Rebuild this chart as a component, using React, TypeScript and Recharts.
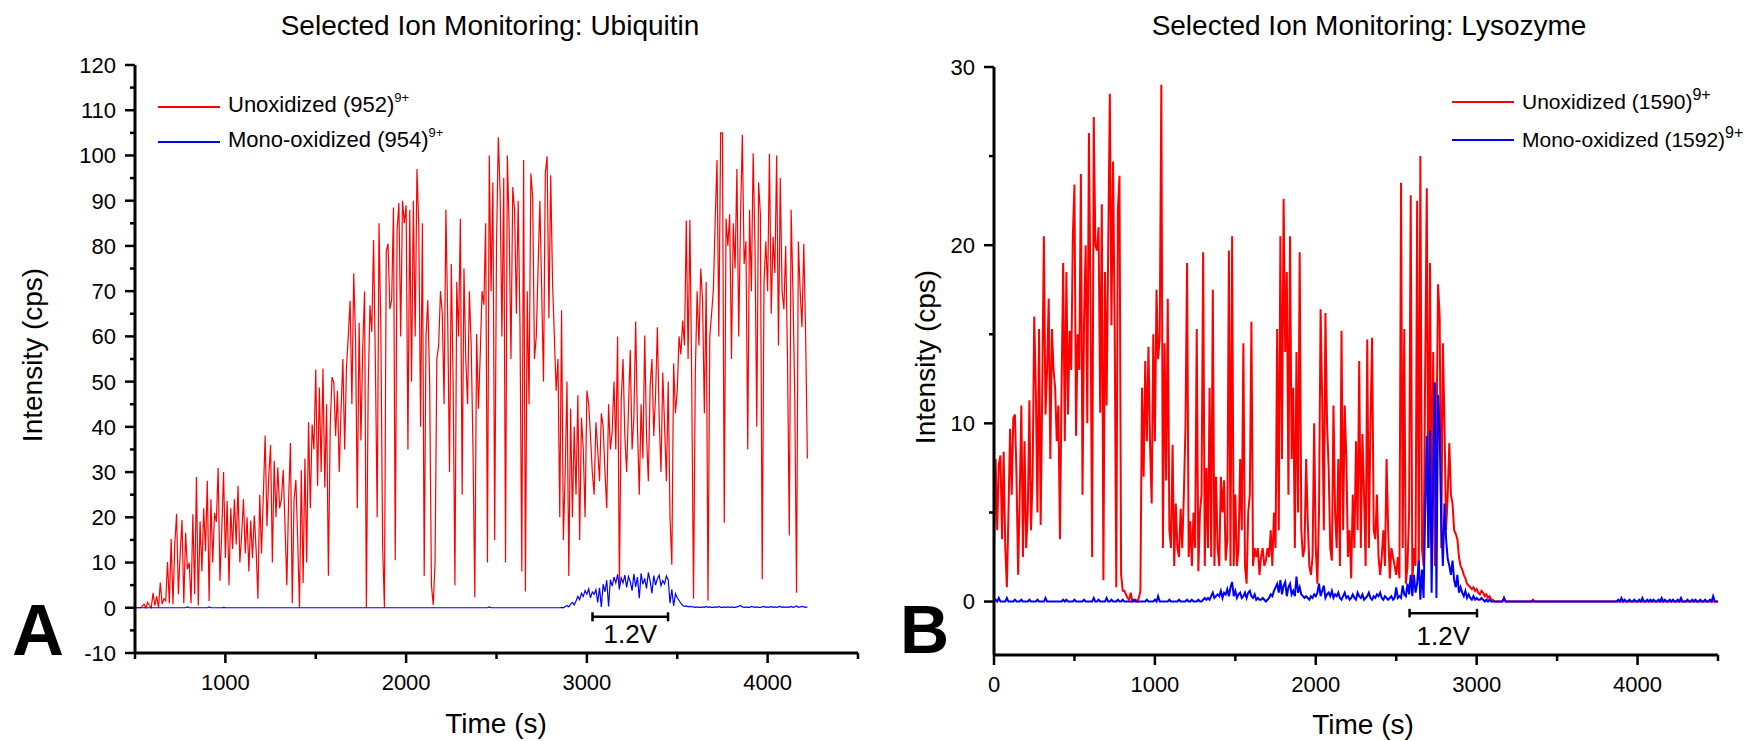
import { Legend, Line, LineChart, ReferenceLine, XAxis, YAxis } from 'recharts';

const FONT = '"Liberation Sans", Arial, Helvetica, sans-serif';

// ---- Panel A: ubiquitin, one reading every 10 s starting at 500 s ----
const ubqStart = 500;
const ubqStep = 10;

const ubqUnoxidized = [
  0, 0, 0, 0, 0.3, 0.8, 0, 1.2, 0.5, 0,
  3.3, 0.5, 2.5, 0, 5.6, 0.8, 2, 1.5, 10.1, 1,
  15.2, 0.8, 14, 20.8, 3, 12, 19.4, 1, 16.6, 8.5,
  10, 1, 20.7, 3, 28.9, 0.5, 19.1, 8, 22, 12.5,
  28.1, 1.5, 24, 10, 21, 19, 30.9, 6, 17, 30,
  11, 23.6, 5, 22, 13, 24, 14, 27, 10, 16,
  24, 12, 20, 8, 19.3, 11, 20.4, 13, 2, 25,
  12, 24.9, 38.1, 18, 29, 36, 10, 32.5, 20, 31,
  22, 24, 30.5, 18, 5, 24, 36.4, 1, 24, 28.3,
  15, 0, 30.4, 5.5, 33, 10, 41, 22, 40.5, 35,
  52.7, 27, 48.7, 30, 52.9, 26.6, 45, 7.1, 40, 51,
  49.7, 38, 48, 30, 43.6, 55, 35, 53.3, 60, 67.9,
  45, 73.9, 60, 22, 63, 37, 57.5, 69.9, 0, 48,
  66.9, 61, 81.3, 54, 20, 85, 62, 13.5, 0, 78.8,
  80.5, 66, 68, 88.5, 10.5, 83.4, 89.5, 60, 90, 85,
  89, 35, 88, 50, 90, 60, 97, 84.5, 40, 85,
  7, 60, 68, 50, 5, 0.6, 10, 55, 58, 70,
  65, 45, 88, 64, 30, 76, 50, 5, 72, 60,
  86, 25, 75, 55, 45, 70, 58, 35, 2.3, 60.5,
  44, 56, 70, 67, 85, 10, 100, 70, 94, 15,
  80, 104, 92, 60, 95, 10, 100, 84, 55, 93,
  88, 65, 90, 62, 8, 99, 3.6, 70, 45, 96,
  91, 55, 60, 75, 90, 70, 50, 96, 99.8, 64,
  95.6, 72, 60, 48, 55, 20, 65.8, 15, 30, 50,
  7, 44, 20, 40, 25, 47, 15, 42, 35, 20,
  48, 45, 38, 30, 25, 41, 35, 28, 43, 40,
  30, 22, 45, 35, 39, 50, 35, 60, 4, 46,
  55, 38, 30, 44, 57, 35, 42, 63.3, 40, 25,
  45, 33, 60.2, 38, 28, 49, 55, 38, 47, 62,
  42, 30, 52, 40, 28, 50, 20, 9.5, 54, 43,
  48, 60, 56, 63.5, 58, 85.6, 55, 85.8, 50, 2,
  52, 70, 58, 75, 68, 43, 72, 1.6, 60, 65,
  70.4, 86, 99, 60, 105, 105, 18.8, 86, 80, 87,
  55, 85, 75, 97, 60, 86, 104.6, 76, 81, 35,
  88, 70, 100.5, 80, 40, 94, 87, 6.3, 72, 81,
  70, 100.4, 65, 82, 74, 100, 58, 95, 70, 66,
  80, 55, 16, 88, 70, 47, 3.3, 81, 70, 62,
  80.5, 61, 33,
];

const ubqMonoOxidized = [
  0, 0, 0, 0, 0, 0, 0, 0, 0, 0,
  0, 0, 0, 0, 0, 0, 0, 0, 0, 0,
  0, 0, 0, 0, 0, 0, 0, 0, 0, 0.2,
  0, 0, 0, 0, 0, 0, 0, 0, 0, 0,
  0, 0.2, 0, 0, 0, 0, 0, 0, 0, 0.1,
  0, 0, 0, 0, 0, 0, 0, 0, 0, 0,
  0, 0, 0, 0, 0, 0, 0, 0, 0, 0,
  0, 0, 0, 0, 0, 0, 0, 0, 0, 0,
  0, 0, 0, 0, 0, 0, 0, 0, 0, 0,
  0, 0, 0, 0, 0, 0, 0, 0, 0, 0,
  0, 0, 0, 0, 0, 0, 0, 0, 0, 0,
  0, 0, 0, 0, 0, 0, 0, 0, 0, 0,
  0, 0, 0, 0, 0, 0, 0, 0, 0, 0,
  0, 0, 0, 0, 0, 0, 0, 0, 0, 0,
  0, 0, 0, 0, 0, 0, 0, 0, 0, 0,
  0, 0, 0, 0, 0, 0, 0, 0, 0, 0,
  0, 0, 0, 0, 0, 0, 0, 0, 0, 0,
  0, 0, 0, 0, 0, 0, 0, 0, 0, 0,
  0, 0, 0, 0, 0, 0, 0, 0, 0, 0,
  0, 0, 0, 0, 0, 0, 0.2, 0, 0, 0,
  0, 0, 0, 0, 0, 0, 0, 0, 0, 0,
  0, 0, 0, 0, 0, 0, 0, 0, 0, 0,
  0, 0, 0, 0, 0, 0, 0, 0, 0, 0,
  0, 0, 0, 0, 0,
  0, 0.1, 0, 0.3, 0.5, 0.2, 0.8, 1.2, 0.6, 1.5,
  2.5, 1.8, 3.2, 2.5, 3.8, 3.0, 4.2, 2.2, 3.5, 3.0,
  4.0, 1.2, 4.4, 0.2, 5.2, 3.5, 6.1, 0.3, 6.2, 4.8,
  6.8, 5.5, 7.4, 4.2, 6.6, 5.5, 7.2, 4.5, 6.9, 5.8,
  3.8, 7.5, 4.6, 6.8, 2.1, 7.6, 5.2, 6.5, 4.3, 7.8,
  5.9, 3.2, 7.1, 5.0, 6.4, 7.2, 4.9, 6.0, 5.3, 7.0,
  6.2, 1.0, 4.1, 0.4, 3.1, 2.2, 1.6, 1.0, 0.5, 0.3,
  0.4, 0.2, 0.3, 0.2, 0.2,
  0.1, 0.2, 0.1, 0.1, 0.2, 0.1, 0.3, 0.1, 0.2, 0.1,
  0.1, 0.2, 0.1, 0.3, 0.1, 0.1, 0.2, 0.1, 0.2, 0.1,
  0.2, 0.1, 0.1, 0.2, 0.3, 0.5, 0.2, 0.1, 0.2, 0.1,
  0.1, 0.3, 0.2, 0.1, 0.2, 0.1, 0.1, 0.2, 0.3, 0.1,
  0.2, 0.1, 0.3, 0.1, 0.2, 0.1, 0.2, 0.3, 0.1, 0.2,
  0.1, 0.2, 0.1, 0.3, 0.1, 0.2, 0.4, 0.1, 0.2, 0.3,
  0.2, 0.1, 0.2,
];

// ---- Panel B: lysozyme, one reading every 10 s starting at 0 s ----
const lysStart = 0;
const lysStep = 10;

const lysUnoxidized = [
  3, 8, 4, 7.7, 8.2, 3.5, 8.4, 3, 0.8, 5,
  9.7, 6, 10.3, 10.5, 7, 1.5, 6, 11, 2.5, 9,
  3, 5, 11.3, 4, 7, 16, 11.8, 5, 15.3, 4.3,
  12, 20.5, 10.5, 13, 17, 8, 15.3, 13, 12, 9,
  11, 3.5, 12, 19, 9, 18.5, 10.5, 15.2, 13, 20.5,
  23.4, 9.3, 15, 13, 24, 6, 16, 20, 10, 26.3,
  17, 2.5, 27.2, 20, 19.7, 21, 10.6, 22.3, 1.2, 18.5,
  11, 20, 28.5, 15.5, 24.7, 15.5, 0.8, 22, 23.9, 1.5,
  0.6, 0.6, 0.4, 0.2, 0.1, 0.5, 0, 0, 0.1, 0,
  0.2, 0.6, 12, 7, 13.5, 9, 14.3, 8.8, 5.5, 15,
  9, 17.5, 13.6, 14.8, 29, 3, 14.5, 6.8, 17, 4,
  3, 8.8, 2, 5.5, 3, 2.5, 5.2, 3, 6, 9.8,
  19, 2.5, 4.5, 2, 5, 3, 15.3, 1.7, 5, 6,
  19.6, 2, 7.5, 3, 12, 2.5, 17.5, 2, 7, 3,
  2, 7, 5, 6.8, 2.3, 3.5, 19.7, 2, 20.5, 2,
  6, 2, 3, 8, 4, 14.5, 2, 1, 5, 6,
  15.7, 2, 3, 2.5, 3, 1.5, 2.5, 3, 2, 2.3,
  3, 2.5, 4, 2, 5, 3, 15.3, 4, 20.5, 8,
  22.6, 14, 18.5, 6, 20.5, 8, 12, 3, 14, 5,
  19.6, 4, 2.5, 3, 8, 4.5, 2, 1.5, 2.5, 10,
  3, 1, 5, 16.4, 11.3, 4, 16.2, 10, 7.5, 3,
  2.3, 11, 5, 3, 8, 2, 15.2, 4, 11, 8,
  2.5, 4, 1.3, 6, 3, 9, 4, 13.5, 3, 9.4,
  6, 2, 14.7, 3, 10, 14.8, 4, 3.5, 6, 2.5,
  1.5, 2.5, 4, 2, 8, 4, 1.3, 3, 2.5, 2,
  1.5, 2.5, 1.3, 23.5, 3, 15.3, 1, 2, 5, 22.8,
  1, 3, 2, 22.5, 1.5, 25, 3, 2, 13, 23.2,
  3, 19, 4, 14, 2, 9, 17.8, 16, 3, 14.5,
  10, 4, 6, 8.9, 6, 5.5, 4, 3.8, 3.5, 2.5,
  2, 1.8, 1.5, 1.3, 1, 0.9, 0.8, 0.7, 0.8, 0.6,
  0.7, 0.5, 0.4, 0.6, 0.5, 0.3, 0.4, 0.2, 0.3, 0.1,
  0.1, 0, 0, 0, 0, 0, 0, 0.2, 0, 0,
  0, 0, 0, 0, 0, 0, 0, 0, 0, 0,
  0, 0, 0, 0, 0, 0.1, 0, 0, 0, 0,
  0, 0, 0, 0, 0, 0, 0, 0, 0, 0,
  0, 0, 0, 0, 0, 0, 0, 0, 0, 0,
  0, 0, 0, 0, 0, 0, 0, 0, 0, 0,
  0, 0, 0, 0, 0, 0, 0, 0, 0, 0,
  0, 0, 0, 0, 0, 0, 0, 0, 0, 0,
  0, 0, 0, 0, 0, 0, 0, 0, 0, 0,
  0, 0, 0, 0, 0, 0, 0, 0, 0, 0,
  0, 0, 0, 0, 0, 0, 0, 0, 0, 0,
  0, 0, 0, 0, 0, 0, 0, 0, 0, 0,
  0, 0, 0, 0, 0, 0, 0, 0, 0, 0,
  0, 0, 0, 0, 0, 0, 0, 0, 0, 0,
  0,
];

const lysMonoOxidized = [
  0, 0.1, 0, 0.2, 0, 0, 0, 0, 0.2, 0,
  0, 0, 0, 0.1, 0, 0, 0, 0.1, 0, 0,
  0, 0, 0.1, 0, 0, 0, 0, 0.1, 0, 0,
  0, 0, 0.2, 0, 0, 0, 0, 0, 0, 0,
  0, 0, 0, 0.1, 0, 0.1, 0, 0, 0, 0,
  0.1, 0, 0, 0, 0, 0, 0.1, 0, 0, 0,
  0, 0, 0.2, 0, 0, 0.1, 0, 0, 0, 0,
  0.2, 0, 0, 0.1, 0, 0, 0, 0.1, 0, 0,
  0.1, 0, 0, 0, 0, 0, 0, 0.1, 0, 0,
  0, 0, 0, 0, 0, 0.1, 0, 0, 0, 0,
  0.1, 0, 0.3, 0, 0, 0, 0, 0, 0, 0.1,
  0, 0, 0, 0, 0, 0.1, 0, 0, 0, 0,
  0.1, 0, 0, 0.1, 0, 0, 0, 0.1, 0, 0,
  0.1, 0.2, 0.1, 0.2, 0.1, 0.3, 0.5, 0.2, 0.3, 0.4,
  0.3, 0.6, 0.2, 0.5, 0.4, 0.7, 0.3, 0.8, 1.1, 0.3,
  0.6, 0.2, 0.4, 0.5, 0.2, 0.3, 0.5, 0.2, 0.5, 0.6,
  0.3, 0.2, 0.4, 0.1, 0.2, 0.1, 0.1, 0.2, 0.1, 0,
  0.1, 0.2, 0.4, 0.3, 0.6, 0.8, 1.0, 0.5, 1.2, 0.4,
  0.9, 1.1, 0.3, 0.8, 1.0, 0.4, 0.6, 0.3, 1.4, 0.5,
  0.8, 0.4, 0.3, 0.2, 0.3, 0.2, 0.1, 0.3, 0.2, 0.4,
  0.3, 0.5, 1.0, 0.3, 0.6, 0.9, 0.2, 0.4, 0.5, 0.3,
  0.6, 0.2, 0.4, 0.3, 0.5, 0.2, 0.1, 0.3, 0.5, 0.2,
  0.3, 0.1, 0.2, 0.4, 0.2, 0.1, 0.5, 0.3, 0.2, 0.4,
  0.1, 0.2, 0.3, 0.5, 0.2, 0.1, 0.3, 0.2, 0.4, 0.3,
  0.5, 0.2, 0.1, 0.3, 0.2, 0.1, 0.2, 0.3, 0.1, 0.2,
  0.8, 0.2, 0.3, 0.2, 0.9, 0.4, 0.3, 1.0, 0.4, 1.5,
  0.3, 1.5, 0.5, 1.0, 2.3, 0.1, 1.8, 0.2, 5, 9.3,
  3, 9.6, 0.5, 7, 12.3, 0.2, 11.6, 9.6, 4.5, 2,
  5.5, 3.5, 2.4, 2.0, 1.5, 2.3, 1.2, 0.8, 1.5, 0.5,
  0.8, 0.5, 0.3, 0.6, 0.2, 0.4, 0.2, 0.1, 0.3, 0.1,
  0.2, 0.1, 0.1, 0.2, 0.1, 0, 0.1, 0, 0.1, 0,
  0, 0, 0, 0, 0, 0, 0, 0.2, 0, 0,
  0, 0, 0, 0, 0, 0, 0, 0, 0, 0,
  0, 0, 0, 0, 0, 0, 0, 0, 0, 0,
  0, 0, 0, 0, 0, 0, 0, 0, 0, 0,
  0, 0, 0, 0, 0, 0, 0, 0, 0, 0,
  0, 0, 0, 0, 0, 0, 0, 0, 0, 0,
  0, 0, 0, 0, 0, 0, 0, 0, 0, 0,
  0, 0, 0, 0, 0, 0, 0, 0, 0.1, 0,
  0.2, 0, 0.1, 0, 0, 0.1, 0, 0, 0.1, 0,
  0, 0.1, 0, 0.2, 0, 0, 0.1, 0, 0.1, 0,
  0.1, 0, 0, 0.1, 0, 0.2, 0, 0.1, 0, 0,
  0.1, 0, 0.1, 0, 0, 0.1, 0, 0.2, 0, 0,
  0, 0.1, 0, 0, 0.1, 0, 0.1, 0, 0, 0.1,
  0, 0, 0.1, 0, 0, 0.1, 0, 0.3, 0, 0,
  0,
];

// axes
const ubqXTicks = [500, 1000, 1500, 2000, 2500, 3000, 3500, 4000, 4500];
const ubqYTicks = [
  -10, -5, 0, 5, 10, 15, 20, 25, 30, 35, 40, 45, 50, 55, 60, 65, 70, 75, 80,
  85, 90, 95, 100, 105, 110, 115, 120,
];
const lysXTicks = [0, 500, 1000, 1500, 2000, 2500, 3000, 3500, 4000, 4500];
const lysYTicks = [0, 5, 10, 15, 20, 25, 30];

// legend text and the "1.2V" window
const ubqNames = ['Unoxidized (952)', 'Mono-oxidized (954)'];
const lysNames = ['Unoxidized (1590)', 'Mono-oxidized (1592)'];
const chargeState = '9+';
const ubqWindow = [3031, 3449];
const lysWindow = [2583, 3002];
const windowLabel = '1.2V';

const toRows = (start: number, step: number, red: number[], blue: number[]) =>
  red.map((v, i) => ({ t: start + i * step, red: v, blue: blue[i] }));

const ubqRows = toRows(ubqStart, ubqStep, ubqUnoxidized, ubqMonoOxidized);
const lysRows = toRows(lysStart, lysStep, lysUnoxidized, lysMonoOxidized);

function XTick(props: any) {
  const { x, y, payload } = props;
  const major = payload.value % 1000 === 0;
  return (
    <g>
      <line x1={x} y1={y} x2={x} y2={y + (major ? 10 : 6)} stroke="#000" strokeWidth={2.5} />
      {major && (
        <text x={x} y={y + 37} textAnchor="middle" fontSize={22} fill="#000">
          {payload.value}
        </text>
      )}
    </g>
  );
}

function YTick(props: any) {
  const { x, y, payload } = props;
  const major = payload.value % 10 === 0;
  return (
    <g>
      <line x1={x} y1={y} x2={x - (major ? 10 : 5)} y2={y} stroke="#000" strokeWidth={2.5} />
      {major && (
        <text x={x - 19} y={y} dy="0.36em" textAnchor="end" fontSize={22} fill="#000">
          {payload.value}
        </text>
      )}
    </g>
  );
}

// legend keeps the series order (Recharts sorts the payload by name otherwise)
const legendContent =
  (names: string[], fontSize: number, supSize: number, supRaise: number, rowHeight: number, stroke: number) =>
  (props: any) => {
    const payload = props.payload || [];
    return (
      <div style={{ fontSize, lineHeight: `${fontSize}px`, color: '#000', fontFamily: FONT }}>
        {names.map((name) => {
          const entry = payload.find((p: any) => p.value === name);
          return (
            <div
              key={name}
              style={{ display: 'flex', alignItems: 'center', height: rowHeight, whiteSpace: 'nowrap' }}
            >
              <span
                style={{
                  width: 62,
                  height: stroke,
                  background: entry ? entry.color : '#000',
                  marginRight: 8,
                }}
              />
              <span>
                {name}
                <span style={{ fontSize: supSize, position: 'relative', top: -supRaise }}>
                  {chargeState}
                </span>
              </span>
            </div>
          );
        })}
      </div>
    );
  };

const axisLine = { stroke: '#000', strokeWidth: 3 };

function UbiquitinChart() {
  return (
    <LineChart width={880} height={741} data={ubqRows} margin={{ top: 65, right: 22, bottom: 28, left: 35 }}>
      <XAxis
        dataKey="t"
        type="number"
        domain={[500, 4500]}
        ticks={ubqXTicks}
        interval={0}
        allowDataOverflow
        height={60}
        tickSize={0}
        tickMargin={0}
        tickLine={false}
        axisLine={axisLine}
        tick={XTick}
        label={() => (
          <text x={496} y={733} textAnchor="middle" fontSize={28} fill="#000">
            Time (s)
          </text>
        )}
      />
      <YAxis
        type="number"
        domain={[-10, 120]}
        ticks={ubqYTicks}
        interval={0}
        allowDataOverflow
        width={100}
        tickSize={0}
        tickMargin={0}
        tickLine={false}
        axisLine={axisLine}
        tick={YTick}
        label={() => (
          <text
            x={32}
            y={355}
            transform="rotate(-90 32 355)"
            textAnchor="middle"
            dominantBaseline="central"
            fontSize={28}
            fill="#000"
          >
            Intensity (cps)
          </text>
        )}
      />
      <Legend
        layout="vertical"
        align="center"
        verticalAlign="middle"
        wrapperStyle={{ left: 158, top: 89, width: 'auto', height: 'auto' }}
        content={legendContent(ubqNames, 22, 13, 10, 35, 2)}
      />
      <Line
        dataKey="red"
        name={ubqNames[0]}
        type="linear"
        stroke="#ff0000"
        strokeWidth={1.2}
        dot={false}
        isAnimationActive={false}
      />
      <Line
        dataKey="blue"
        name={ubqNames[1]}
        type="linear"
        stroke="#0000ff"
        strokeWidth={1.2}
        dot={false}
        isAnimationActive={false}
      />
      <ReferenceLine
        segment={[{ x: ubqWindow[0], y: -2 }, { x: ubqWindow[1], y: -2 }]}
        stroke="#000"
        strokeWidth={2.5}
        ifOverflow="visible"
        label={{ value: windowLabel, position: 'bottom', offset: 8, fontSize: 26, fill: '#000' }}
      />
      <ReferenceLine
        segment={[{ x: ubqWindow[0], y: -3 }, { x: ubqWindow[0], y: -1 }]}
        stroke="#000"
        strokeWidth={2.5}
        ifOverflow="visible"
      />
      <ReferenceLine
        segment={[{ x: ubqWindow[1], y: -3 }, { x: ubqWindow[1], y: -1 }]}
        stroke="#000"
        strokeWidth={2.5}
        ifOverflow="visible"
      />
    </LineChart>
  );
}

function LysozymeChart() {
  return (
    <LineChart width={866} height={741} data={lysRows} margin={{ top: 67, right: 28, bottom: 26, left: 14 }}>
      <XAxis
        dataKey="t"
        type="number"
        domain={[0, 4500]}
        ticks={lysXTicks}
        interval={0}
        allowDataOverflow
        height={60}
        tickSize={0}
        tickMargin={0}
        tickLine={false}
        axisLine={axisLine}
        tick={XTick}
        label={() => (
          <text x={483} y={734} textAnchor="middle" fontSize={28} fill="#000">
            Time (s)
          </text>
        )}
      />
      <YAxis
        type="number"
        domain={[-3, 30]}
        ticks={lysYTicks}
        interval={0}
        allowDataOverflow
        width={100}
        tickSize={0}
        tickMargin={0}
        tickLine={false}
        axisLine={axisLine}
        tick={YTick}
        label={() => (
          <text
            x={45}
            y={357}
            transform="rotate(-90 45 357)"
            textAnchor="middle"
            dominantBaseline="central"
            fontSize={28}
            fill="#000"
          >
            Intensity (cps)
          </text>
        )}
      />
      <Legend
        layout="vertical"
        align="center"
        verticalAlign="middle"
        wrapperStyle={{ left: 572, top: 83, width: 'auto', height: 'auto' }}
        content={legendContent(lysNames, 21, 16, 9, 38, 2)}
      />
      <Line
        dataKey="red"
        name={lysNames[0]}
        type="linear"
        stroke="#ff0000"
        strokeWidth={2}
        dot={false}
        isAnimationActive={false}
      />
      <Line
        dataKey="blue"
        name={lysNames[1]}
        type="linear"
        stroke="#0000ff"
        strokeWidth={2}
        dot={false}
        isAnimationActive={false}
      />
      <ReferenceLine
        segment={[{ x: lysWindow[0], y: -0.65 }, { x: lysWindow[1], y: -0.65 }]}
        stroke="#000"
        strokeWidth={2.5}
        ifOverflow="visible"
        label={{ value: windowLabel, position: 'bottom', offset: 13, fontSize: 26, fill: '#000' }}
      />
      <ReferenceLine
        segment={[{ x: lysWindow[0], y: -0.89 }, { x: lysWindow[0], y: -0.41 }]}
        stroke="#000"
        strokeWidth={2.5}
        ifOverflow="visible"
      />
      <ReferenceLine
        segment={[{ x: lysWindow[1], y: -0.89 }, { x: lysWindow[1], y: -0.41 }]}
        stroke="#000"
        strokeWidth={2.5}
        ifOverflow="visible"
      />
    </LineChart>
  );
}

const titleStyle = {
  position: 'absolute' as const,
  top: 12,
  fontSize: 28,
  lineHeight: '28px',
  whiteSpace: 'nowrap' as const,
  transform: 'translateX(-50%)',
  color: '#000',
};

export default function App() {
  return (
    <div
      style={{
        position: 'absolute',
        left: 0,
        top: 0,
        width: 1746,
        height: 741,
        background: '#fff',
        fontFamily: FONT,
        overflow: 'hidden',
      }}
    >
      <div style={{ position: 'absolute', left: 0, top: 0 }}>
        <UbiquitinChart />
      </div>
      <div style={{ position: 'absolute', left: 880, top: 0 }}>
        <LysozymeChart />
      </div>
      <div style={{ ...titleStyle, left: 490 }}>Selected Ion Monitoring: Ubiquitin</div>
      <div style={{ ...titleStyle, left: 1369 }}>Selected Ion Monitoring: Lysozyme</div>
      <div
        style={{ position: 'absolute', left: 12, top: 594, fontSize: 72, lineHeight: '72px', fontWeight: 'bold' }}
      >
        A
      </div>
      <div
        style={{ position: 'absolute', left: 900, top: 595, fontSize: 68, lineHeight: '68px', fontWeight: 'bold' }}
      >
        B
      </div>
    </div>
  );
}
